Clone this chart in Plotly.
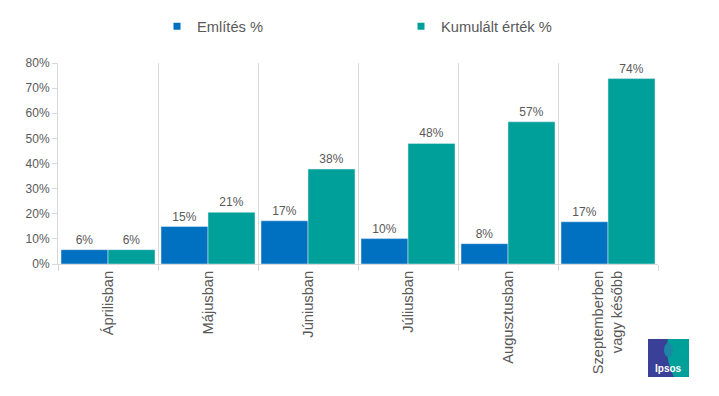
import plotly.graph_objects as go

categories = ["Áprilisban", "Májusban", "Júniusban", "Júliusban", "Augusztusban",
              "Szeptemberben<br>vagy később"]
emlites = [5.7, 14.9, 17.2, 10.1, 8.1, 16.8]
kumulalt = [5.7, 20.6, 37.8, 48.0, 56.6, 73.8]
series_names = ["Említés %", "Kumulált érték %"]
y_ticks = [0, 10, 20, 30, 40, 50, 60, 70, 80]
y_ticklabels = [f"{v}%" for v in y_ticks]

BLUE = "#0070C0"
TEAL = "#00A09A"
TXT = "#595959"
GRID = "#D9D9D9"
FONT = "Liberation Sans, Arial, sans-serif"

fig = go.Figure()
for name, vals, col in [(series_names[0], emlites, BLUE), (series_names[1], kumulalt, TEAL)]:
    fig.add_trace(go.Bar(name=name, x=categories, y=vals, marker_color=col,
                         text=[f"{round(v)}%" for v in vals], textposition="outside",
                         textfont=dict(size=12, color=TXT), cliponaxis=False,
                         showlegend=False, legendgroup=name))
    # small square legend proxy
    fig.add_trace(go.Scatter(name=name, x=[None], y=[None], mode="markers",
                             marker=dict(symbol="square", size=7, color=col),
                             showlegend=True, legendgroup=name, hoverinfo="skip"))

# page body has an 8px margin; figure is sized so it ends at the window edge
W, H = 711, 388
L, R, T, B = 50, 61, 55, 132

fig.update_layout(
    width=W, height=H,
    margin=dict(l=L, r=R, t=T, b=B, autoexpand=False),
    paper_bgcolor="white", plot_bgcolor="white",
    font=dict(family=FONT, color=TXT, size=12),
    barmode="group", bargap=0.06, bargroupgap=0,
    showlegend=True,
    legend=dict(orientation="h", x=0.165, xanchor="left", y=1.18, yanchor="middle",
                font=dict(size=14.67, color=TXT), entrywidth=199, entrywidthmode="pixels",
                itemwidth=30),
    xaxis=dict(type="category", tickson="boundaries", showgrid=True, gridcolor=GRID,
               gridwidth=1, showline=True, linecolor=GRID, ticks="outside", ticklen=6,
               tickcolor=GRID, tickangle=-90, tickfont=dict(size=14.67, color=TXT)),
    yaxis=dict(range=[0, 80], tickvals=y_ticks, ticktext=y_ticklabels, showgrid=False,
               showline=True, linecolor=GRID, ticks="outside", ticklen=5, tickcolor=GRID,
               tickfont=dict(size=12, color=TXT), zeroline=False),
)

# Ipsos logo (approximation), positions given in reference window pixels
pw = W - L - R
ph = H - T - B

def px2x(px):
    return (px - 8 - L) / pw

def py2y(py):
    return (H - B + 8 - py) / ph

fig.add_shape(type="rect", xref="paper", yref="paper", x0=px2x(648), x1=px2x(689),
              y0=py2y(377), y1=py2y(339), fillcolor=TEAL, line_width=0, layer="below")
fig.add_shape(type="path", xref="paper", yref="paper",
              path=f"M {px2x(648)},{py2y(377)} L {px2x(648)},{py2y(339)} L {px2x(668)},{py2y(339)} "
                   f"Q {px2x(664)},{py2y(356)} {px2x(674)},{py2y(377)} Z",
              fillcolor="#3A3F98", line_width=0, layer="below")
fig.add_shape(type="circle", xref="paper", yref="paper", x0=px2x(664), x1=px2x(673),
              y0=py2y(357), y1=py2y(343), fillcolor="#1C86A6", line_width=0, layer="below")
fig.add_annotation(text="<b>Ipsos</b>", xref="paper", yref="paper", x=px2x(668), y=py2y(368),
                   xanchor="center", yanchor="middle",
                   showarrow=False, font=dict(size=10, color="white", family=FONT))

fig.write_html("out.html")
